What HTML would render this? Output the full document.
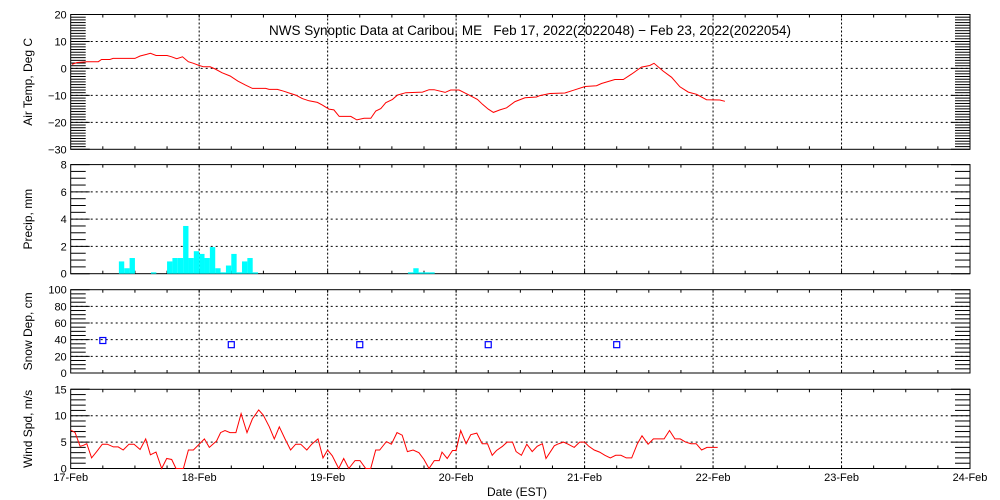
<!DOCTYPE html>
<html><head><meta charset="utf-8"><style>
html,body{margin:0;padding:0;background:#fff;}
svg{display:block;font-family:"Liberation Sans",sans-serif;}
</style></head><body>
<svg id="chart" width="1000" height="500" viewBox="0 0 1000 500"></svg>
<script>
// ---- data ----
const dayLabels = ["17-Feb","18-Feb","19-Feb","20-Feb","21-Feb","22-Feb","23-Feb","24-Feb"];
const tempTimes = [0.01,0.05,0.125,0.215,0.24,0.305,0.33,0.5,0.54,0.59,0.62,0.665,0.75,0.785,0.825,0.87,0.915,0.955,1.0,1.035,1.085,1.125,1.177,1.241,1.301,1.361,1.414,1.518,1.544,1.609,1.661,1.712,1.751,1.803,1.855,1.92,1.959,2.01,2.049,2.09,2.18,2.227,2.284,2.336,2.375,2.414,2.453,2.505,2.543,2.608,2.738,2.79,2.829,2.914,2.958,3.023,3.101,3.166,3.205,
 3.25,3.29,3.341,3.393,3.458,3.536,3.626,3.652,3.730,3.847,3.912,4.003,4.093,4.132,4.236,4.301,4.366,4.443,4.508,4.540,4.612,4.677,4.742,4.807,4.872,4.949,5.053,5.092];
const tempValues = [1.5,2.2,2.5,2.5,3.3,3.3,3.7,3.7,4.6,5.2,5.6,4.8,4.8,4.3,3.6,4.3,2.5,1.9,1.1,0.6,0.6,-0.2,-1.6,-2.8,-4.7,-6.2,-7.4,-7.4,-7.8,-7.8,-8.5,-9.3,-9.9,-11.2,-12.0,-12.6,-13.6,-15.1,-15.4,-17.8,-17.8,-19.1,-18.5,-18.5,-15.8,-14.9,-12.7,-11.5,-9.9,-9.0,-8.8,-7.9,-7.9,-8.9,-8.0,-8.0,-9.9,-11.5,-13.3,
 -15.1,-16.3,-15.4,-14.6,-12.3,-10.9,-10.6,-10.1,-9.3,-9.1,-8.1,-6.7,-6.4,-5.6,-4.1,-4.1,-2.1,0.5,1.1,1.9,-1.0,-3.3,-6.8,-8.8,-9.6,-11.6,-11.7,-12.2];
const precipHours = [9,10,11,15,18,19,20,21,22,23,24,25,26,27,28,29,30,31,32,33,34,63,64,65,66,67];
const precipValues = [0.9,0.4,1.15,0.1,0.9,1.15,1.15,3.5,1.15,1.65,1.45,1.15,1.95,0.4,0.1,0.6,1.45,0.1,0.9,1.15,0.1,0.1,0.4,0.1,0.1,0.1];
const snowTimes = [0.25,1.25,2.25,3.25,4.25];
const snowValues = [39,34,34,34,34];
const windTimes = [0,0.034,0.073,0.099,0.125,0.163,0.202,0.246,0.285,0.332,0.37,0.409,0.454,0.493,0.54,0.584,0.62,0.664,0.708,0.747,0.786,0.82,0.877,0.916,0.955,1.0,1.041,1.079,1.136,1.167,1.201,1.24,1.286,1.326,1.372,1.414,1.463,1.499,1.546,1.585,1.624,1.668,1.712,1.751,1.79,1.838,1.876,1.925,1.964,2.0,2.036,2.086,2.125,2.165,2.213,2.252,2.296,2.335,2.374,2.405,2.457,2.496,2.54,2.58,2.621,2.665,2.71,2.75,2.789,2.83,2.868,2.89,2.931,2.972,3.0,3.036,3.078,3.114,3.161,3.203,3.244,3.281,3.314,3.361,3.397,3.439,3.467,3.508,3.55,3.592,3.631,3.672,3.7,3.764,3.789,3.836,3.872,3.919,3.961,4.0,4.033,4.075,4.117,4.158,4.2,4.242,4.283,4.325,4.367,4.411,4.447,4.494,4.536,4.578,4.619,4.661,4.703,4.744,4.786,4.828,4.869,4.911,4.953,4.994,5.036];
const windValues = [7.3,6.8,4.2,4.4,4.7,2.0,3.2,4.6,4.6,4.1,4.1,3.5,4.6,4.6,3.6,5.6,2.6,3.1,0,1.9,1.7,0,0,3.5,3.5,4.6,5.6,4.0,5.2,6.8,7.2,6.8,6.8,10.4,6.8,9.4,11.1,10.1,7.9,5.6,7.9,5.6,3.5,4.6,4.6,3.5,4.6,5.6,2.0,3.5,2.4,0,1.9,0,1.5,1.5,0,0,3.5,3.5,5.1,4.6,6.8,6.3,3.2,3.5,3.0,1.7,0,1.5,1.5,3.1,1.9,3.4,3.4,7.2,4.7,6.4,6.7,4.7,4.7,2.5,3.4,4.2,5.0,5.0,3.2,2.5,4.6,3.2,4.2,4.7,1.9,4.3,4.6,5.0,4.6,4.0,5.0,5.0,4.2,3.5,3.1,2.5,2.0,2.5,2.5,2.0,2.0,4.7,6.2,4.6,5.6,5.6,5.6,7.2,5.6,5.6,5.0,4.7,4.7,3.5,4.0,4.0,4.0,5.0];

// ---- layout ----
const NS="http://www.w3.org/2000/svg";
const svg=document.getElementById('chart');
const X0=70.7, X1=970, NDAYS=7;
const xs=d=>X0+(X1-X0)*d/NDAYS;
function el(tag,attrs,parent){const e=document.createElementNS(NS,tag);for(const k in attrs)e.setAttribute(k,attrs[k]);(parent||svg).appendChild(e);return e;}
const panels=[
 {name:'air-temp',top:14.5,bot:149.3,min:-30,max:20,major:10,minor:1,label:'Air Temp, Deg C'},
 {name:'precip',top:164.6,bot:273.7,min:0,max:8,major:2,minor:0.5,label:'Precip, mm'},
 {name:'snow-depth',top:289.7,bot:373,min:0,max:100,major:20,minor:5,label:'Snow Dep, cm'},
 {name:'wind-speed',top:389.3,bot:468.5,min:0,max:15,major:5,minor:1,label:'Wind Spd, m/s'}
];
panels.forEach(p=>{
 p.ys=v=>p.bot-(v-p.min)*(p.bot-p.top)/(p.max-p.min);
 const g=el('g',{});
 
 
 for(let d=1;d<NDAYS;d++){const l=el('line',{x1:xs(d),x2:xs(d),y1:p.top,y2:p.bot,stroke:'#000','stroke-width':1,'stroke-dasharray':'2,2'},g);
  }
 for(let v=p.min+p.major;v<p.max;v+=p.major){const l=el('line',{x1:X0,x2:X1,y1:p.ys(v),y2:p.ys(v),stroke:'#000','stroke-width':1,'stroke-dasharray':'2,3'},g);
  }
 const n=Math.round((p.max-p.min)/p.minor);
 for(let i=0;i<=n;i++){const v=p.min+i*p.minor;const y=p.ys(v);const maj=Math.abs(v/p.major-Math.round(v/p.major))<1e-6;
  const len=maj?19:15;
  el('line',{x1:X0,x2:X0+len,y1:y,y2:y,stroke:'#000','stroke-width':1},g);
  el('line',{x1:X1-len,x2:X1,y1:y,y2:y,stroke:'#000','stroke-width':1},g);
  if(maj){const t=el('text',{x:X0-4,y:y+4,'text-anchor':'end','font-size':11},g);t.textContent=(v<0?'\u2212'+(-v):v);
   }}
 for(let i=1;i<NDAYS*4;i++){const x=xs(i/4);
  el('line',{x1:x,x2:x,y1:p.top,y2:p.top+3,stroke:'#000'},g);
  el('line',{x1:x,x2:x,y1:p.bot,y2:p.bot-3,stroke:'#000'},g);}
 const fr=el('rect',{x:X0,y:p.top,width:X1-X0,height:p.bot-p.top,fill:'none',stroke:'#000','stroke-width':1},g);
 
 const cy=(p.top+p.bot)/2;
 const yl=el('text',{x:32,y:cy,'text-anchor':'middle','font-size':12,transform:`rotate(-90 32 ${cy})`},g);
 yl.textContent=p.label;
 
});
const [PT,PP,PS,PW]=panels;
let d='';tempTimes.forEach((t,i)=>{d+=(i?'L':'M')+xs(t).toFixed(1)+' '+PT.ys(tempValues[i]).toFixed(1);});
const tl=el('path',{d,fill:'none',stroke:'#f00','stroke-width':1});

precipHours.forEach((h,i)=>{const xa=xs(h/24),xb=xs((h+1)/24);
 const r=el('rect',{x:xa,y:PP.ys(precipValues[i]),width:xb-xa,height:PP.bot-PP.ys(precipValues[i]),fill:'#00ffff'});
 });
snowTimes.forEach((t,i)=>{const r=el('rect',{x:xs(t)-3,y:PS.ys(snowValues[i])-3,width:6,height:6,fill:'none',stroke:'#0000ff','stroke-width':1.2});
 });
d='';windTimes.forEach((t,i)=>{d+=(i?'L':'M')+xs(t).toFixed(1)+' '+PW.ys(windValues[i]).toFixed(1);});
const wl=el('path',{d,fill:'none',stroke:'#f00','stroke-width':1});

dayLabels.forEach((s,i)=>{const t=el('text',{x:xs(i),y:481,'text-anchor':'middle','font-size':11});t.textContent=s;
 });
const xt=el('text',{x:517,y:496,'text-anchor':'middle','font-size':12});xt.textContent='Date (EST)';

const ti=el('text',{x:530,y:35,'text-anchor':'middle','font-size':13.5});
ti.setAttribute('xml:space','preserve');ti.style.whiteSpace='pre';
ti.textContent='NWS Synoptic Data at Caribou, ME   Feb 17, 2022(2022048) \u2212 Feb 23, 2022(2022054)';

</script>
</body></html>
